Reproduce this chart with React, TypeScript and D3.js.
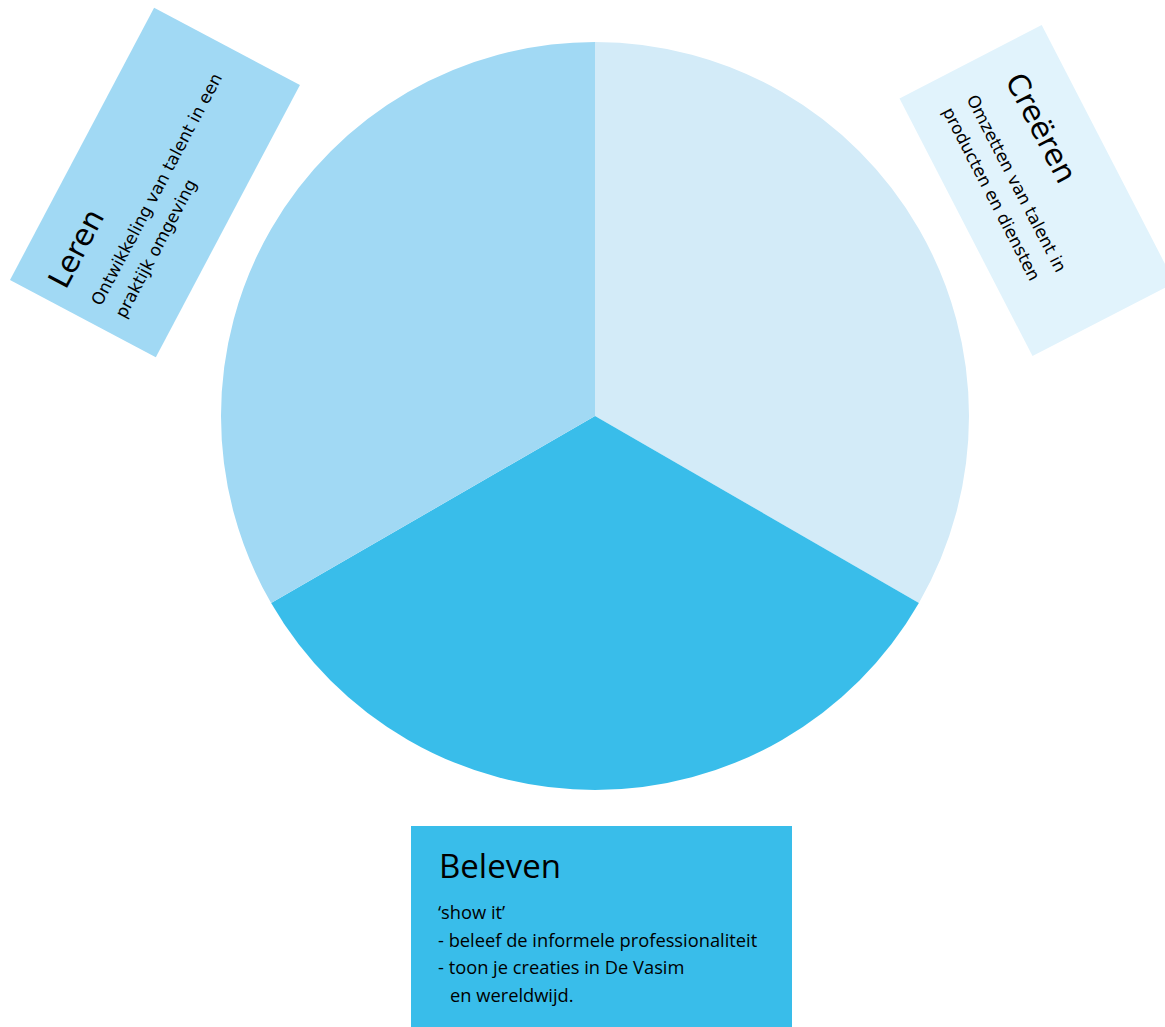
import React from "react";
import * as d3 from "d3";

// ---- data ----
const segments = ["Creëren", "Beleven", "Leren"];
const segmentValues = [1, 1, 1];
const segmentColors = ["#d3ebf8", "#39bdea", "#a1d9f4"];

const lerenTitle = "Leren";
const lerenLines = ["Ontwikkeling van talent in een", "praktijk omgeving"];
const creerenTitle = "Creëren";
const creerenLines = ["Omzetten van talent in", "producten en diensten"];
const belevenTitle = "Beleven";
const belevenLines = [
  "‘show it’",
  "- beleef de informele professionaliteit",
  "- toon je creaties in De Vasim",
  "en wereldwijd.",
];
const belevenIndented = [false, false, false, true];

// ---- layout ----
const W = 1165;
const H = 1027;
const cx = 595;
const cy = 416;
const R = 374;

export default function App() {
  const pie = d3
    .pie<number>()
    .sort(null)
    .startAngle(0)
    .endAngle(2 * Math.PI)
    .value((d) => d);
  const arcs = pie(segmentValues);
  const arc = d3.arc<d3.PieArcDatum<number>>().innerRadius(0).outerRadius(R);

  const rotFont = "'DejaVu Sans', Verdana, sans-serif";
  const belFont = "'Open Sans', Lato, sans-serif";

  return (
    <div style={{ position: "absolute", left: 0, top: 0 }}>
      <svg width={W} height={H} style={{ display: "block" }}>
        <g transform={`translate(${cx},${cy})`}>
          {arcs.map((a, i) => (
            <path key={segments[i]} d={arc(a) || ""} fill={segmentColors[i]} />
          ))}
        </g>

        {/* Leren box */}
        <g transform={`translate(10,280) rotate(-62.1)`}>
          <rect x={0} y={0} width={308} height={165} fill="#a1d9f4" />
          <text x={17} y={54} fontFamily={rotFont} fontSize={30} fill="#000">
            {lerenTitle}
          </text>
          {lerenLines.map((l, i) => (
            <text key={i} x={19} y={93 + i * 27} fontFamily={rotFont} fontSize={17} fill="#000">
              {l}
            </text>
          ))}
        </g>

        {/* Creëren box */}
        <g transform={`translate(1041.7,25) rotate(62.7)`}>
          <rect x={0} y={0} width={290} height={160} fill="#e1f3fc" />
          <text x={32} y={58} fontFamily={rotFont} fontSize={30} fill="#000">
            {creerenTitle}
          </text>
          {creerenLines.map((l, i) => (
            <text key={i} x={31} y={101 + i * 27} fontFamily={rotFont} fontSize={17} fill="#000">
              {l}
            </text>
          ))}
        </g>

        {/* Beleven box */}
        <g transform={`translate(411,826)`}>
          <rect x={0} y={0} width={381} height={201} fill="#39bdea" />
          <text x={28} y={52} fontFamily={belFont} fontSize={33} fill="#000">
            {belevenTitle}
          </text>
          {belevenLines.map((l, i) => (
            <text
              key={i}
              x={belevenIndented[i] ? 39 : 27}
              y={93 + i * 27.5}
              fontFamily={belFont}
              fontSize={18.3}
              fill="#000"
            >
              {l}
            </text>
          ))}
        </g>
      </svg>
    </div>
  );
}
